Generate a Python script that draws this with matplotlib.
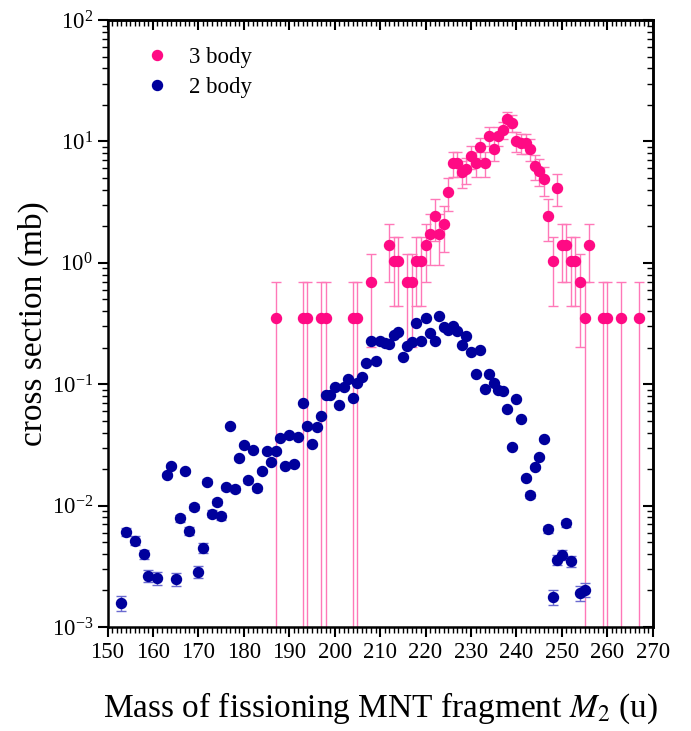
import numpy as np
import matplotlib.pyplot as plt
from matplotlib.lines import Line2D
from matplotlib.ticker import MultipleLocator, LogLocator, NullFormatter

plt.rcParams['font.family'] = ['Liberation Serif', 'DejaVu Serif']
plt.rcParams['mathtext.fontset'] = 'stix'

# 3 body (mb)
m3 = [187, 193, 194, 197, 198, 204, 205, 208, 212, 213, 214, 216, 217, 218, 219, 220,
      221, 222, 223, 224, 225, 226, 227, 228, 229, 230, 231, 232, 233, 234, 235, 236,
      237, 238, 239, 240, 241, 242, 243, 244, 245, 246, 247, 248, 249, 250, 251, 252,
      253, 254, 255, 256, 259, 260, 263, 267]
xs3 = [0.35, 0.35, 0.35, 0.35, 0.35, 0.35, 0.35, 0.69, 1.39, 1.04, 1.04, 0.69, 0.69, 1.04, 1.04, 1.39,
       1.74, 2.43, 1.74, 2.08, 3.82, 6.6, 6.6, 5.55, 5.9, 7.6, 6.6, 9.0, 6.6, 11.1, 8.7, 11.1,
       12.5, 15.3, 14.2, 10.1, 9.7, 9.7, 8.7, 6.25, 5.7, 4.86, 2.43, 1.04, 4.16, 1.39, 1.39, 1.04,
       1.04, 0.69, 0.35, 1.39, 0.35, 0.35, 0.35, 0.35]

# 2 body (mb)
m2 = [153, 154, 156, 158, 159, 161, 163, 164, 165, 166, 167, 168, 169, 170, 171, 172,
      173, 174, 175, 176, 177, 178, 179, 180, 181, 182, 183, 184, 185, 186, 187, 188,
      189, 190, 191, 192, 193, 194, 195, 196, 197, 198, 199, 200, 201, 202, 203, 204,
      205, 206, 207, 208, 209, 210, 211, 212, 213, 214, 215, 216, 217, 218, 219, 220,
      221, 222, 223, 224, 225, 226, 227, 228, 229, 230, 231, 232, 233, 234, 235, 236,
      237, 238, 239, 240, 241, 242, 243, 244, 245, 246, 247, 248, 249, 250, 251, 252,
      254, 255]
xs2 = [1.58e-3, 6.1e-3, 5.14e-3, 3.97e-3, 2.63e-3, 2.52e-3, 1.79e-2, 2.13e-2, 2.48e-3, 7.85e-3,
       1.93e-2, 6.17e-3, 9.8e-3, 2.85e-3, 4.48e-3, 1.57e-2,
       8.57e-3, 1.08e-2, 8.2e-3, 1.42e-2, 4.53e-2, 1.37e-2, 2.47e-2, 3.18e-2, 1.61e-2, 2.88e-2,
       1.39e-2, 1.92e-2, 2.83e-2, 2.29e-2, 2.83e-2, 3.58e-2,
       2.13e-2, 3.84e-2, 2.2e-2, 3.7e-2, 6.97e-2, 4.55e-2, 3.2e-2, 4.42e-2, 5.43e-2, 8.2e-2,
       8.2e-2, 9.53e-2, 6.74e-2, 9.53e-2, 0.110, 7.7e-2,
       0.102, 0.115, 0.150, 0.227, 0.154, 0.227, 0.217, 0.213, 0.254, 0.267, 0.169, 0.207,
       0.221, 0.321, 0.227, 0.349,
       0.262, 0.228, 0.365, 0.298, 0.279, 0.301, 0.274, 0.210, 0.249, 0.185, 0.121, 0.191,
       0.0912, 0.121, 0.103, 0.0895,
       0.0873, 0.0621, 0.0306, 0.0751, 0.0516, 0.0169, 0.0122, 0.0209, 0.025, 0.0352, 6.38e-3,
       1.78e-3, 3.58e-3, 3.92e-3, 7.15e-3, 3.47e-3,
       1.9e-3, 2.02e-3]

# counting errors: one count = 0.347 mb (3 body), 3.5e-5 mb (2 body)
xs3 = np.array(xs3)
xs2 = np.array(xs2)
err3 = np.sqrt(xs3 * 0.347)
err3_lo = np.where(err3 >= xs3 * 0.95, xs3 * 0.9999, err3)  # single counts go down to zero
err2 = np.sqrt(xs2 * 3.5e-5)

pink = '#ff0a84'
blue = '#00009c'

fig = plt.figure(figsize=(6.91, 7.31), dpi=100)
ax = fig.add_axes([0.1556, 0.1423, 0.7890, 0.8303])

ax.errorbar(m3, xs3, yerr=[err3_lo, err3], fmt='o', color=pink, ms=7.2,
            ecolor='#ff78b8', elinewidth=1.0, capsize=3.3, capthick=1.0, zorder=2)
ax.errorbar(m2, xs2, yerr=err2, fmt='o', color=blue, ms=7.2,
            ecolor='#6a6ad0', elinewidth=1.0, capsize=3.3, capthick=1.0, zorder=3)

ax.set_yscale('log')
ax.set_xlim(150, 270)
ax.set_ylim(1e-3, 1e2)
ax.xaxis.set_major_locator(MultipleLocator(10))
ax.xaxis.set_minor_locator(MultipleLocator(1))
ax.yaxis.set_minor_locator(LogLocator(base=10, subs=np.arange(2, 10)))
ax.yaxis.set_minor_formatter(NullFormatter())
ax.tick_params(which='major', direction='out', length=7, width=1.5, labelsize=16.5)
ax.tick_params(which='minor', direction='out', length=4, width=1.0)

# top / right axes with inward ticks, no labels
top = ax.secondary_xaxis('top')
top.xaxis.set_major_locator(MultipleLocator(10))
top.xaxis.set_minor_locator(MultipleLocator(1))
top.tick_params(which='major', direction='in', length=7, width=1.5, labeltop=False)
top.tick_params(which='minor', direction='in', length=4, width=1.0)
right = ax.secondary_yaxis('right')
right.yaxis.set_minor_locator(LogLocator(base=10, subs=np.arange(2, 10)))
right.tick_params(which='major', direction='in', length=7, width=1.5, labelright=False)
right.tick_params(which='minor', direction='in', length=4, width=1.0, labelright=False)
right.yaxis.set_minor_formatter(NullFormatter())

for s in ax.spines.values():
    s.set_linewidth(1.8)
top.spines['top'].set_linewidth(1.8)
right.spines['right'].set_linewidth(1.8)

ax.set_xlabel('Mass of fissioning MNT fragment $\\mathit{M}_2$ (u)', fontsize=24, labelpad=20)
ax.set_ylabel('cross section (mb)', fontsize=24, labelpad=2)

handles = [Line2D([], [], ls='none', marker='o', ms=7.2, color=pink),
           Line2D([], [], ls='none', marker='o', ms=7.2, color=blue)]
ax.legend(handles, ['3 body', '2 body'], loc='upper left', bbox_to_anchor=(0.07, 0.955),
          borderaxespad=0, borderpad=0, frameon=False, fontsize=16.5,
          handlelength=1.0, handletextpad=0.9, labelspacing=0.36)

plt.savefig('out.png', dpi=100)
